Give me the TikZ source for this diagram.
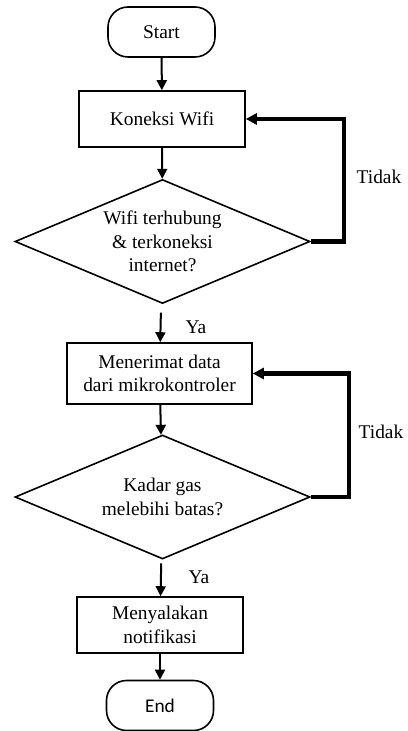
\documentclass[tikz,border=0pt]{standalone}
\usepackage{fontspec}
\setmainfont{Liberation Serif}
\newfontfamily\endfont{Carlito}
\usetikzlibrary{shapes.geometric,arrows.meta}

\begin{document}
\begin{tikzpicture}[x=0.5pt,y=-0.5pt,
        every node/.append style={font=\fontsize{9.7}{11.8}\selectfont},
        terminal/.style={draw,line width=0.8pt,rounded corners=10pt,
            minimum width=53.5pt,minimum height=25pt,inner sep=0pt},
        process/.style={draw,line width=0.8pt,inner sep=0pt,align=center},
        decision/.style={draw,line width=0.8pt,diamond,aspect=2.4,inner sep=0pt,
            minimum width=147.5pt,minimum height=62pt,align=center},
        flow/.style={line width=1pt,-{Triangle[width=5pt,length=5pt]}},
        backflow/.style={line width=2.2pt,-{Triangle[width=5.5pt,length=5.5pt]}}
        ]
        \useasboundingbox (0,0) rectangle (407,731);
        % Wifi
        \node[terminal] (start) at (161.5,32) {Start};
        \node[process,minimum width=83pt,minimum height=28pt] (wifi) at (162,119) {Koneksi Wifi};
        \node[decision] (cekwifi) at (162.5,241.5) {Wifi terhubung\\ \& terkoneksi\\ internet?};
        % Data
        \node[process,minimum width=92.5pt,minimum height=30.5pt] (terima) at (159.5,373.5) {Menerimat data\\ dari mikrokontroler};
        \node[decision] (cekgas) at (162.5,497) {Kadar gas\\ melebihi batas?};
        % Notifikasi
        \node[process,minimum width=83pt,minimum height=28pt] (notif) at (160,625) {Menyalakan\\ notifikasi};
        \node[terminal,font=\endfont\fontsize{9.7}{11.8}\selectfont] (end) at (160,705.5) {End};

        \draw[flow] (start) -- (wifi);
        \draw[flow] (wifi) -- (cekwifi);
        \draw[flow,shorten <=4.5pt] (cekwifi) -- (terima);
        \draw[flow] (terima) -- (cekgas);
        \draw[flow,shorten <=2pt] (cekgas) -- (notif);
        \draw[flow] (notif) -- (end);
        \draw[backflow] (cekwifi.east) -- ++(33,0) |- (wifi.east);
        \draw[backflow] (cekgas.east) -- ++(38,0) |- (terima.east);

        \node (ya1) at (196,327) {Ya};
        \node (tidak1) at (379,177) {Tidak};
        \node (ya2) at (199,577) {Ya};
        \node (tidak2) at (381,432) {Tidak};
\end{tikzpicture}
\end{document}
